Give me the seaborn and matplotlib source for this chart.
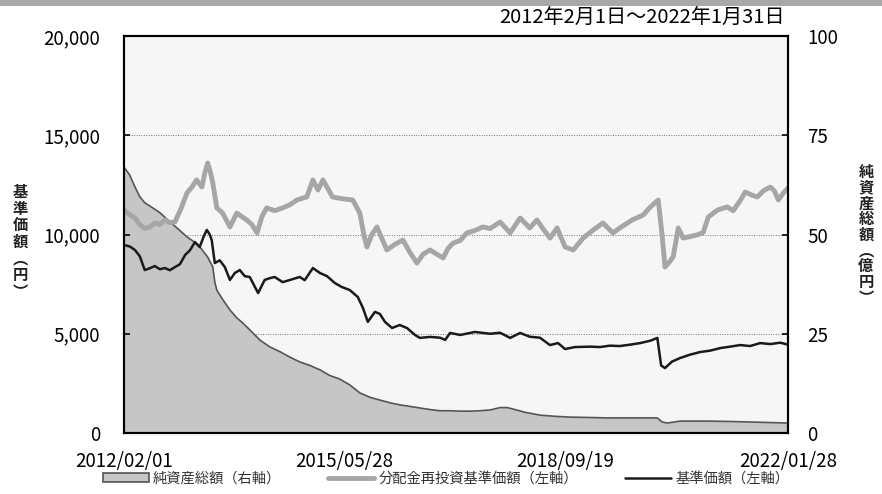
import pandas as pd
import numpy as np
import matplotlib
matplotlib.use('Agg')
import matplotlib.pyplot as plt
import matplotlib.ticker as mticker
from matplotlib.patches import Rectangle, Patch
from matplotlib.lines import Line2D
import seaborn as sns

# 基準価額 (left axis, 円)
nav_dates = ['2012-02-01', '2012-03-03', '2012-04-01', '2012-04-28', '2012-05-25', '2012-06-22',
             '2012-07-19', '2012-08-16', '2012-09-13', '2012-10-10', '2012-11-07', '2012-12-04',
             '2013-01-02', '2013-01-28', '2013-02-25', '2013-03-23', '2013-04-14', '2013-05-01',
             '2013-05-17', '2013-05-28', '2013-06-14', '2013-07-11', '2013-08-08', '2013-09-05',
             '2013-10-02', '2013-10-29', '2013-11-26', '2013-12-23', '2014-02-07', '2014-03-15',
             '2014-04-12', '2014-05-09', '2014-06-22', '2014-08-01', '2014-09-24', '2014-10-21',
             '2014-12-05', '2015-01-13', '2015-02-21', '2015-04-04', '2015-05-12', '2015-06-26',
             '2015-08-09', '2015-09-06', '2015-10-03', '2015-11-11', '2015-12-08', '2016-01-05',
             '2016-02-13', '2016-03-26', '2016-05-05', '2016-06-18', '2016-07-15', '2016-09-09',
             '2016-11-03', '2016-12-01', '2016-12-28', '2017-02-22', '2017-05-13', '2017-08-05',
             '2017-09-29', '2017-11-23', '2018-01-17', '2018-03-11', '2018-05-06', '2018-06-30',
             '2018-08-13', '2018-09-21', '2018-11-15', '2019-02-07', '2019-04-01', '2019-05-25',
             '2019-07-19', '2019-09-13', '2019-11-08', '2020-01-03', '2020-02-10', '2020-03-02',
             '2020-03-23', '2020-05-01', '2020-06-15', '2020-08-09', '2020-10-03', '2020-11-27',
             '2021-01-22', '2021-03-16', '2021-05-10', '2021-07-04', '2021-08-28', '2021-10-23',
             '2021-12-17', '2022-01-28']
nav_values = [9470, 9400, 9220, 8900, 8210, 8300,
              8410, 8250, 8310, 8200, 8360, 8500,
              8970, 9200, 9620, 9370, 9900, 10230,
              10000, 9720, 8560, 8700, 8360, 7710,
              8060, 8210, 7900, 7860, 7050, 7710,
              7800, 7860, 7600, 7710, 7860, 7700,
              8310, 8060, 7900, 7560, 7360, 7200,
              6850, 6300, 5600, 6100, 6000, 5600,
              5290, 5440, 5290, 4940, 4790, 4840,
              4800, 4690, 5040, 4940, 5090, 5000,
              5050, 4790, 5040, 4850, 4800, 4430,
              4530, 4230, 4330, 4350, 4330, 4400,
              4380, 4450, 4530, 4650, 4790, 3400,
              3270, 3600, 3780, 3950, 4080, 4150,
              4280, 4350, 4430, 4380, 4530, 4480,
              4550, 4450]

# 分配金再投資基準価額 (left axis, 円)
reinv_dates = ['2012-02-01', '2012-03-03', '2012-04-01', '2012-04-28', '2012-05-25', '2012-06-22',
               '2012-07-19', '2012-08-16', '2012-09-13', '2012-10-10', '2012-11-07', '2012-12-10',
               '2013-01-12', '2013-02-09', '2013-03-06', '2013-04-04', '2013-04-20', '2013-05-06',
               '2013-05-22', '2013-06-03', '2013-06-25', '2013-07-27', '2013-09-05', '2013-10-13',
               '2013-11-10', '2013-12-07', '2014-01-04', '2014-02-01', '2014-02-28', '2014-03-26',
               '2014-05-09', '2014-06-22', '2014-08-01', '2014-09-08', '2014-11-02', '2014-12-05',
               '2015-01-02', '2015-01-29', '2015-02-26', '2015-03-23', '2015-05-17', '2015-07-12',
               '2015-08-20', '2015-09-11', '2015-09-28', '2015-10-25', '2015-11-22', '2015-12-19',
               '2016-01-16', '2016-02-28', '2016-04-13', '2016-05-21', '2016-06-29', '2016-08-01',
               '2016-09-09', '2016-10-17', '2016-11-20', '2016-12-17', '2017-01-14', '2017-02-22',
               '2017-03-30', '2017-05-13', '2017-06-26', '2017-08-05', '2017-09-29', '2017-11-23',
               '2018-01-17', '2018-03-11', '2018-04-19', '2018-05-22', '2018-06-30', '2018-08-08',
               '2018-09-21', '2018-11-05', '2018-12-29', '2019-02-23', '2019-04-17', '2019-06-11',
               '2019-07-19', '2019-09-24', '2019-11-24', '2020-01-03', '2020-02-15', '2020-03-07',
               '2020-03-23', '2020-04-15', '2020-05-07', '2020-06-04', '2020-07-01', '2020-08-09',
               '2020-09-17', '2020-10-19', '2020-11-16', '2021-01-05', '2021-02-28', '2021-04-02',
               '2021-05-10', '2021-06-07', '2021-07-10', '2021-08-12', '2021-09-15', '2021-10-23',
               '2021-11-14', '2021-12-06', '2022-01-03', '2022-01-28']
reinv_values = [11230, 11000, 10830, 10500, 10300, 10380,
                10580, 10500, 10730, 10600, 10630, 11300,
                12090, 12400, 12750, 12390, 13100, 13600,
                13100, 12600, 11340, 11080, 10380, 11080,
                10900, 10730, 10500, 10080, 10900, 11340,
                11200, 11340, 11500, 11740, 11900, 12750,
                12240, 12750, 12300, 11890, 11800, 11740,
                11080, 10000, 9370, 10000, 10380, 9800,
                9220, 9500, 9720, 9100, 8560, 9000,
                9220, 9000, 8820, 9300, 9570, 9700,
                10080, 10200, 10380, 10300, 10630, 10080,
                10830, 10330, 10730, 10300, 9820, 10330,
                9370, 9220, 9820, 10230, 10580, 10080,
                10330, 10730, 10980, 11390, 11740, 10000,
                8360, 8600, 8870, 10330, 9820, 9900,
                9980, 10100, 10880, 11230, 11390, 11200,
                11700, 12140, 12000, 11890, 12200, 12390,
                12200, 11740, 12100, 12340]

# 純資産総額 (right axis, 億円)
aum_dates = ['2012-02-01', '2012-03-03', '2012-04-01', '2012-04-28', '2012-05-25', '2012-07-08',
             '2012-08-16', '2012-10-10', '2012-12-04', '2013-01-12', '2013-02-25', '2013-03-23',
             '2013-05-06', '2013-06-03', '2013-06-14', '2013-06-25', '2013-07-22', '2013-09-05',
             '2013-10-13', '2013-11-15', '2013-12-23', '2014-02-17', '2014-04-12', '2014-06-06',
             '2014-08-01', '2014-09-24', '2014-11-19', '2015-01-13', '2015-03-07', '2015-05-01',
             '2015-06-26', '2015-08-20', '2015-10-14', '2015-12-08', '2016-02-02', '2016-03-26',
             '2016-05-21', '2016-07-15', '2016-09-09', '2016-11-03', '2016-12-28', '2017-02-22',
             '2017-04-16', '2017-06-10', '2017-08-05', '2017-09-29', '2017-11-07', '2017-12-20',
             '2018-02-14', '2018-05-06', '2018-07-27', '2018-10-18', '2019-02-07', '2019-05-09',
             '2019-09-13', '2020-02-10', '2020-03-07', '2020-04-04', '2020-06-15', '2020-11-11',
             '2021-03-16', '2021-08-28', '2022-01-28']
aum_values = [67, 65, 62, 59.5, 58, 56.7,
              55.5, 53.2, 51, 49.4, 48, 46.9,
              44.3, 41.8, 38, 36, 34, 31,
              29, 27.7, 26, 23.4, 21.7, 20.5,
              19.1, 17.9, 17, 15.9, 14.5, 13.6,
              12.1, 10.1, 9, 8.3, 7.6, 7.1,
              6.7, 6.3, 5.9, 5.6, 5.6, 5.5,
              5.5, 5.6, 5.8, 6.4, 6.4, 5.9,
              5.2, 4.5, 4.2, 4.0, 3.9, 3.8,
              3.8, 3.8, 2.8, 2.5, 3.0, 3.0,
              2.9, 2.7, 2.5]

xtick_dates = ['2012-02-01', '2015-05-28', '2018-09-19', '2022-01-28']
xtick_labels = ['2012/02/01', '2015/05/28', '2018/09/19', '2022/01/28']
left_ticks = [0, 5000, 10000, 15000, 20000]
right_ticks = [0, 25, 50, 75, 100]
period_text = '2012年2月1日～2022年1月31日'
legend_labels = ['純資産総額（右軸）', '分配金再投資基準価額（左軸）', '基準価額（左軸）']

nav = pd.DataFrame({'date': pd.to_datetime(nav_dates), 'value': nav_values})
reinv = pd.DataFrame({'date': pd.to_datetime(reinv_dates), 'value': reinv_values})
aum = pd.DataFrame({'date': pd.to_datetime(aum_dates), 'value': aum_values})

sns.set_style('white')
plt.rcParams['font.family'] = ['Noto Sans CJK JP', 'DejaVu Sans']

fill_c = '#c6c6c6'
edge_c = '#555555'
grey_c = '#a6a6a6'
black_c = '#1a1a1a'

fig = plt.figure(figsize=(8.82, 4.94), dpi=100)
ax2 = fig.add_axes([0.1406, 0.1235, 0.7528, 0.8036])
ax = ax2.twinx()
ax.yaxis.tick_left()
ax2.yaxis.tick_right()

# right axis: net assets area (behind)
ax2.set_facecolor('#f6f6f6')
ax2.fill_between(aum['date'], aum['value'], 0, color=fill_c, linewidth=0, zorder=2)
sns.lineplot(data=aum, x='date', y='value', ax=ax2, color=edge_c, linewidth=1.2, zorder=3)
ax2.set_ylim(0, 100)
ax2.set_yticks(right_ticks)
ax2.grid(axis='y', color='#777777', linestyle=(0, (1, 1.5)), linewidth=0.7, zorder=1)
ax2.set_axisbelow(True)

# left axis: lines on top
ax.set_zorder(ax2.get_zorder() + 1)
ax.patch.set_visible(False)
sns.lineplot(data=reinv, x='date', y='value', ax=ax, color=grey_c, linewidth=3.5)
sns.lineplot(data=nav, x='date', y='value', ax=ax, color=black_c, linewidth=1.8)
ax.set_ylim(0, 20000)
ax.set_yticks(left_ticks)
ax.yaxis.set_major_formatter(mticker.StrMethodFormatter('{x:,.0f}'))

xt = pd.to_datetime(xtick_dates)
for a in (ax, ax2):
    a.set_xlim(xt[0], xt[-1])
    a.set_xlabel('')
    a.set_ylabel('')
    for s in a.spines.values():
        s.set_color('black')
        s.set_linewidth(1.5)
ax2.set_xticks(xt)
ax2.set_xticklabels(xtick_labels)

ax.tick_params(axis='y', which='both', left=True, right=False, labelleft=True, labelright=False,
               direction='in', length=4, width=1.2, pad=17, labelsize=13.5, colors='black')
ax2.tick_params(axis='y', which='both', left=False, right=True, labelleft=False, labelright=True,
                direction='in', length=4, width=1.2, pad=14, labelsize=13.5, colors='black')
ax2.tick_params(axis='x', direction='in', length=4, width=1.2, pad=13, labelsize=13.5,
                bottom=True, labelbottom=True, colors='black')

# axis titles, vertical stacked characters
fig.text(20 / 882, 1 - 242 / 494, '\n'.join('基準価額︵円︶'), ha='center', va='center',
         fontsize=11, linespacing=1.05, fontweight='bold', color='#222222')
fig.text(866 / 882, 1 - 235 / 494, '\n'.join('純資産総額︵億円︶'), ha='center', va='center',
         fontsize=11, linespacing=0.98, fontweight='bold', color='#222222')

fig.text(785 / 882, 1 - 18 / 494, period_text, ha='right', va='center', fontsize=14.5,
         color='black')

# top grey band
fig.patches.append(Rectangle((0, 1 - 6 / 494), 1, 6 / 494, transform=fig.transFigure,
                             facecolor='#a8a8a8', edgecolor='none'))

handles = [Patch(facecolor=fill_c, edgecolor=edge_c, linewidth=1.2),
           Line2D([0], [0], color=grey_c, linewidth=3.5),
           Line2D([0], [0], color=black_c, linewidth=1.8)]
fig.legend(handles, legend_labels, loc='center', bbox_to_anchor=(446 / 882, 1 - 479 / 494),
           ncol=3, frameon=False, fontsize=10.3, handlelength=3.2, handleheight=0.6,
           handletextpad=0.3, columnspacing=3.3, labelcolor='#333333')

fig.savefig('out.png', dpi=100)
